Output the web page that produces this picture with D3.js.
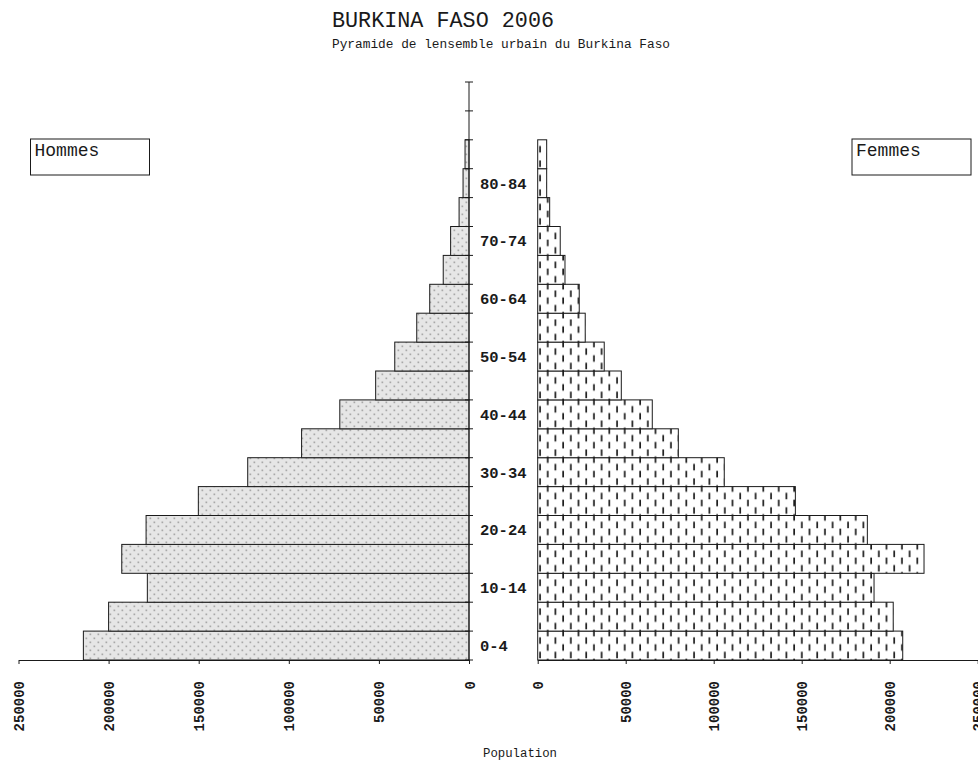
<!DOCTYPE html>
<html>
<head>
<meta charset="utf-8">
<script src="https://cdn.jsdelivr.net/npm/d3@7"></script>
<style>
  html, body { margin: 0; padding: 0; background: #fff; }
  svg { display: block; }
</style>
</head>
<body>
<svg id="chart" width="978" height="760"></svg>
<script>
// ---- data ----
const ageGroups = ["0-4","5-9","10-14","15-19","20-24","25-29","30-34","35-39","40-44","45-49",
                   "50-54","55-59","60-64","65-69","70-74","75-79","80-84","85-89","90-94","95+"];
const ageTickLabels = ["0-4","10-14","20-24","30-34","40-44","50-54","60-64","70-74","80-84"];
const hommes = [214000,200000,178500,192700,179200,150200,122800,92900,71700,51800,
                41200,29000,21800,14300,10200,5500,3300,2200,0,0];
const femmes = [207400,202000,191100,219500,187300,146400,106000,79900,65100,47500,
                37800,27000,23600,15500,12800,6800,5100,5100,0,0];
const xTicks = [0,50000,100000,150000,200000,250000];
const title = "BURKINA FASO 2006";
const subtitle = "Pyramide de lensemble urbain du Burkina Faso";
const xTitle = "Population";
const legendMen = "Hommes";
const legendWomen = "Femmes";

// ---- layout ----
const svg = d3.select("#chart");
const mono = "'Liberation Mono', 'Courier New', monospace";
const ink = "#1a1a1a";

const xL = d3.scaleLinear().domain([0, 250000]).range([469, 18.5]);
const xR = d3.scaleLinear().domain([0, 250000]).range([537.7, 977.7]);
const y = d3.scaleBand().domain(ageGroups).range([660, 82]).padding(0);
const bw = y.bandwidth();

// patterns
const defs = svg.append("defs");
const pm = defs.append("pattern").attr("id", "pMen").attr("patternUnits", "userSpaceOnUse")
  .attr("width", 8).attr("height", 8);
pm.append("rect").attr("width", 8).attr("height", 8).attr("fill", "#e6e6e6");
pm.append("rect").attr("x", 1.5).attr("y", 1.5).attr("width", 1.7).attr("height", 1.7).attr("fill", "#a8a8a8");
pm.append("rect").attr("x", 5.5).attr("y", 5.5).attr("width", 1.7).attr("height", 1.7).attr("fill", "#a8a8a8");

const ph = bw / 2;
const pw = defs.append("pattern").attr("id", "pWomen").attr("patternUnits", "userSpaceOnUse")
  .attr("width", 15.4).attr("height", ph).attr("x", 538).attr("y", 82);
pw.append("rect").attr("width", 15.4).attr("height", ph).attr("fill", "#ffffff");
pw.append("rect").attr("x", 1.2).attr("y", 6.2).attr("width", 1.7).attr("height", 6.5).attr("fill", "#1e1e1e");
pw.append("rect").attr("x", 8.9).attr("y", 0).attr("width", 1.7).attr("height", 5.2).attr("fill", "#1e1e1e");
pw.append("rect").attr("x", 8.9).attr("y", ph - 1.3).attr("width", 1.7).attr("height", 1.3).attr("fill", "#1e1e1e");

// bars - men
const data = ageGroups.map((g, i) => ({ g, h: hommes[i], f: femmes[i] }));
svg.append("g").selectAll("rect").data(data.filter(d => d.h > 0)).join("rect")
  .attr("x", d => xL(d.h)).attr("y", d => y(d.g))
  .attr("width", d => xL(0) - xL(d.h)).attr("height", bw)
  .attr("fill", "url(#pMen)").attr("stroke", ink).attr("stroke-width", 1);

// bars - women
svg.append("g").selectAll("rect").data(data.filter(d => d.f > 0)).join("rect")
  .attr("x", xR(0)).attr("y", d => y(d.g))
  .attr("width", d => xR(d.f) - xR(0)).attr("height", bw)
  .attr("fill", "url(#pWomen)").attr("stroke", ink).attr("stroke-width", 1);

// vertical axis with crossing ticks at band boundaries
const vAxis = svg.append("g");
vAxis.append("line").attr("x1", 469).attr("x2", 469).attr("y1", y.range()[1]).attr("y2", y.range()[0])
  .attr("stroke", ink).attr("stroke-width", 1);
const bounds = ageGroups.map(g => y(g) + bw).concat([y(ageGroups[ageGroups.length - 1])]);
vAxis.selectAll("line.tk").data(bounds).join("line").attr("class", "tk")
  .attr("x1", 465).attr("x2", 473).attr("y1", d => d).attr("y2", d => d)
  .attr("stroke", ink).attr("stroke-width", 1);

// age labels
svg.append("g").selectAll("text").data(ageTickLabels).join("text")
  .attr("x", 480).attr("y", d => y(d) + bw / 2)
  .attr("dy", "0.35em")
  .attr("font-family", mono).attr("font-weight", "bold").attr("font-size", 15.5)
  .attr("fill", ink).text(d => d);

// x axes
function styleAxis(g) {
  g.select(".domain").attr("stroke", ink);
  g.selectAll(".tick line").attr("stroke", ink);
  g.selectAll(".tick text")
    .attr("transform", "rotate(-90)")
    .attr("x", -21).attr("y", 0).attr("dy", "0.36em")
    .attr("text-anchor", "end")
    .attr("font-family", mono).attr("font-weight", "bold").attr("font-size", 14)
    .attr("fill", ink);
}
svg.append("g").attr("transform", "translate(0,660)")
  .call(d3.axisBottom(xL).tickValues(xTicks).tickSize(4).tickSizeOuter(0).tickFormat(d3.format("d")))
  .call(styleAxis);
svg.append("g").attr("transform", "translate(0,660)")
  .call(d3.axisBottom(xR).tickValues(xTicks).tickSize(4).tickSizeOuter(0).tickFormat(d3.format("d")))
  .call(styleAxis);

// titles
svg.append("text").attr("x", 332).attr("y", 27)
  .attr("font-family", mono).attr("font-size", 21.5).attr("fill", ink)
  .attr("textLength", 222).attr("lengthAdjust", "spacingAndGlyphs").text(title);
svg.append("text").attr("x", 332).attr("y", 48)
  .attr("font-family", mono).attr("font-size", 12.5).attr("fill", ink)
  .attr("textLength", 338).attr("lengthAdjust", "spacingAndGlyphs").text(subtitle);
svg.append("text").attr("x", 483).attr("y", 757)
  .attr("font-family", mono).attr("font-size", 12.5).attr("fill", ink)
  .attr("textLength", 74).attr("lengthAdjust", "spacingAndGlyphs").text(xTitle);

// legend boxes
function legendBox(x, label) {
  const g = svg.append("g");
  g.append("rect").attr("x", x).attr("y", 139).attr("width", 119).attr("height", 36)
    .attr("fill", "#fff").attr("stroke", ink).attr("stroke-width", 1);
  g.append("text").attr("x", x + 4).attr("y", 156)
    .attr("font-family", mono).attr("font-size", 18).attr("fill", ink).text(label);
}
legendBox(30.5, legendMen);
legendBox(852, legendWomen);
</script>
</body>
</html>
